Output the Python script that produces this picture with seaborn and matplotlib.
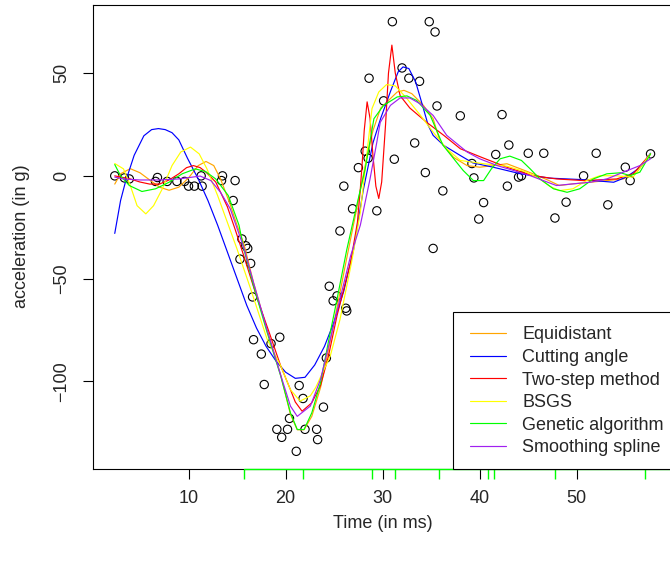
import matplotlib
matplotlib.use("Agg")
import matplotlib.pyplot as plt
import seaborn as sns
from matplotlib.patches import Rectangle

# Observed crash data (time in ms, acceleration in g)
time_pts = [2.4, 3.4, 3.9, 6.6, 6.8, 7.8, 8.8, 9.6, 10.0, 10.6, 11.4, 11.3, 13.5, 13.4, 14.8, 14.6,
            15.5, 15.9, 16.1, 15.3, 16.4, 16.6, 16.7, 18.5, 19.4, 17.5, 17.8, 21.4, 21.8, 23.9,
            20.4, 19.1, 20.2, 22.0, 23.2, 19.6, 23.3, 21.1, 24.2, 24.5, 25.3, 24.9, 26.2, 26.3,
            25.6, 26.9, 26.0, 27.5, 28.2, 28.5, 31.2, 29.4, 30.1, 28.6, 31.0, 34.8, 35.4, 32.0,
            32.7, 33.8, 35.6, 38.0, 33.3, 34.4, 36.2, 35.2, 42.3, 43.0, 41.65, 45.0, 46.6, 39.2,
            39.4, 44.0, 44.3, 42.85, 40.4, 39.9, 52.0, 57.6, 55.0, 50.7, 55.5, 48.9, 53.2, 47.75]
accel_pts = [0.0, -1.0, -1.5, -2.7, -0.8, -2.7, -2.7, -2.7, -5.0, -5.0, -5.0, 0.0, 0.0, -2.3, -2.3, -12.0,
             -30.7, -34.0, -35.3, -40.5, -42.6, -58.9, -79.7, -81.6, -78.5, -86.7, -101.5, -102.0, -108.3, -112.5,
             -118.0, -123.3, -123.3, -123.3, -123.3, -127.2, -128.3, -134.0, -88.6, -53.7, -58.4, -60.8, -64.4, -65.7,
             -26.8, -16.0, -5.0, 4.0, 12.0, 8.6, 8.1, -17.0, 36.5, 47.5, 75.0, 75.0, 70.0, 52.5,
             47.5, 46.0, 34.0, 29.2, 16.0, 1.6, -7.3, -35.3, 29.8, 15.0, 10.4, 11.0, 11.0, 6.0,
             -1.0, -0.6, 0.0, -5.0, -13.0, -21.0, 11.0, 10.7, 4.2, 0.0, -2.3, -12.8, -14.1, -20.5]

# Fitted curves
equi_x = [2.4, 3.0, 4.0, 5.0, 6.0, 7.0, 8.0, 9.0, 10.0, 11.0, 11.8, 12.6, 13.3, 14.3, 15.0, 15.7, 16.7, 18.1,
          19.5, 20.5, 21.2, 21.9, 22.7, 23.6, 24.4, 25.3, 26.3, 27.2, 28.2, 29.0, 29.8, 30.8, 31.5, 32.2, 33.0,
          34.2, 35.2, 35.9, 37.3, 38.7, 40.0, 41.4, 42.8, 44.2, 45.5, 47.0, 48.2, 49.6, 51.4, 53.1, 54.8, 56.2, 57.6]
equi_y = [-4, 1, 3.5, 1.5, -2, -5.5, -7, -5.5, -1, 5, 7, 5, -1.5, -14, -24, -33, -52, -75,
          -97, -116, -123.5, -123.5, -117, -103, -85, -64, -40, -19, 5, 22, 33, 37.6, 40.8, 41.6, 40,
          34.3, 27.8, 17, 9, 5, 4.2, 5, 5.9, 3.4, 1, -2, -4.7, -3.9, -3.1, -2.3, -1.5, 1.8, 10.7]

cut_x = [2.4, 3.0, 3.5, 4.4, 5.4, 6.2, 6.9, 7.6, 8.3, 9.0, 9.9, 11.0, 12.0, 13.0, 14.0, 15.0, 16.0, 17.0,
         18.0, 19.0, 20.0, 21.0, 22.0, 23.0, 24.0, 25.0, 26.0, 27.0, 28.0, 29.0, 29.8, 30.8, 31.6, 32.1, 32.7,
         33.4, 34.0, 34.7, 35.2, 36.3, 38.0, 39.3, 41.4, 44.2, 47.2, 50.4, 53.8, 55.1, 56.5, 57.6]
cut_y = [-28, -12, -3, 10, 19.5, 22.5, 23, 22.5, 21, 17.5, 8.5, -1.5, -12, -24, -37, -50, -63, -74,
         -83, -90, -95.5, -98.5, -98, -92, -83, -71, -56, -36, -7, 16, 28, 41, 50.6, 53, 52.2,
         45.7, 36, 24.5, 19.7, 14.8, 9.9, 6.3, 4.2, 1, -1.1, -1.8, -3.1, -0.6, 4, 11]

two_x = [2.4, 4.0, 5.0, 6.0, 7.0, 8.0, 9.0, 9.8, 10.5, 11.2, 11.8, 12.8, 14.0, 14.8, 15.7, 17.1, 18.3, 19.5,
         20.5, 21.0, 21.7, 22.7, 23.6, 24.4, 25.3, 26.7, 27.4, 27.7, 27.9, 28.1, 28.4, 28.7, 29.0, 29.3, 29.6,
         29.9, 30.3, 30.6, 30.95, 31.3, 31.8, 32.8, 34.55, 36.3, 38.0, 40.2, 42.8, 45.5, 47.9, 50.7, 54.1,
         55.8, 57.6]
two_y = [0, -1.5, -3, -4, -4, -2, 1, 4, 5, 4, 1.8, -3, -15, -26, -39, -60, -76, -92.5,
         -104, -110, -114.5, -110.4, -102, -88, -68, -42, -22.6, -6.3, 6.7, 22, 36, 28, 10, -5, -11,
         -3, 25, 50, 63.6, 50, 39, 33, 26, 19.7, 13.2, 9, 4.2, 0.1, -1.5, -2.3, -1.5,
         1, 10.7]

bsgs_x = [2.4, 3.3, 4.0, 4.7, 5.6, 6.4, 7.3, 8.3, 9.2, 10.2, 11.1, 11.9, 13.0, 14.0, 15.0, 16.4, 18.1, 19.5,
          20.5, 21.5, 22.55, 23.1, 24.6, 25.6, 26.8, 27.7, 28.2, 28.9, 29.6, 30.4, 31.3, 32.5, 33.9, 35.2,
          36.6, 38.0, 40.4, 42.8, 44.8, 46.2, 47.2, 48.2, 49.6, 51.0, 52.4, 54.1, 55.8, 57.6]
bsgs_y = [6, 3.4, -4.7, -14.5, -18.5, -14.5, -6.3, 5, 11.6, 14, 10.7, 3.4, -9.6, -22.6, -35.6, -55, -79.5, -92.5,
          -104, -109.6, -107, -103, -87.7, -70, -42, -17.7, 3.4, 32.7, 40.8, 44.4, 43.8, 37.6, 29.4, 21.3,
          13.2, 7.5, 5.9, 4.7, 1.8, -1.5, -5, -7.2, -6.3, -2.3, 0.1, 0, -0.6, 10.7]

ga_x = [2.4, 3.0, 3.9, 5.2, 6.6, 8.0, 9.35, 10.7, 11.75, 12.8, 14.1, 15.2, 15.7, 16.7, 18.1, 19.5, 20.5, 21.2,
        21.9, 22.7, 23.6, 24.4, 25.3, 26.3, 27.3, 28.2, 29.1, 30.1, 31.5, 32.5, 33.5, 34.9, 36.2, 37.6, 38.3,
        39.35, 40.4, 41.2, 42.1, 43.1, 44.3, 45.2, 46.2, 47.6, 49.0, 50.3, 51.7, 53.1, 54.5, 55.5, 56.5, 57.6]
ga_y = [5.5, 0, -4.7, -7.6, -6.3, -3.1, 1, 3.4, 2.1, -1.5, -9.6, -24, -35.6, -53.5, -76.2, -97.4, -115.3, -123.4,
        -123.4, -115.3, -100.6, -81, -60, -36, -15, 3.4, 27.8, 34.3, 38.4, 38.9, 36.7, 29.4, 15, 6.7, 2.6,
        -2.3, -2.3, 3.4, 8.3, 9.6, 7.5, 3.4, -1.5, -6.3, -8, -6.3, -1.5, 1, 1.5, 0.1, 1.8, 10.7]

smooth_x = [2.4, 3.3, 5.0, 7.0, 9.0, 11.2, 12.3, 13.3, 14.3, 15.7, 16.7, 18.1, 19.5, 20.5, 21.2, 22.55, 23.6,
            24.6, 25.6, 26.7, 27.7, 28.7, 29.4, 29.75, 30.8, 31.8, 32.8, 33.85, 35.2, 36.6, 38.7, 40.0, 41.8,
            43.5, 45.2, 47.9, 49.6, 51.4, 53.1, 54.8, 56.5, 57.6]
smooth_y = [-0.6, -1.5, -2, -2, -1.5, -0.1, -2.3, -8, -16, -35, -52, -75, -97, -112, -117, -112, -99,
            -79.5, -60, -38.9, -24, -1.5, 16.4, 26, 34.3, 37.9, 37.9, 35.1, 29.4, 19.7, 11.6, 8.3, 5,
            2.6, 0.1, -4.7, -3.9, -3.1, -1.5, 1.8, 5, 8.3]

# Knot positions shown as a rug
knots = [15.68, 21.75, 28.88, 31.26, 35.8, 40.81, 41.43, 47.76, 57.03]

method_names = ["Equidistant", "Cutting angle", "Two-step method", "BSGS",
                "Genetic algorithm", "Smoothing spline"]
method_colors = ["#FFA500", "#0000FF", "#FF0000", "#FFFF00", "#00FF00", "#A020F0"]
curves = [(equi_x, equi_y), (cut_x, cut_y), (two_x, two_y), (bsgs_x, bsgs_y),
          (ga_x, ga_y), (smooth_x, smooth_y)]

sns.set_style("ticks")
plt.rcParams["font.family"] = ["Liberation Sans", "DejaVu Sans"]

fig = plt.figure(figsize=(6.7, 5.64), dpi=100)
ax = fig.add_axes([93.3 / 670, (564 - 468.5) / 564, 578.7 / 670, 464 / 564])

sns.scatterplot(x=time_pts, y=accel_pts, ax=ax, marker="o", s=36,
                facecolor="none", edgecolor="black", linewidth=0.8, zorder=2)

for (cx, cy), name, col in zip(curves, method_names, method_colors):
    sns.lineplot(x=cx, y=cy, ax=ax, color=col, linewidth=0.85, label=name,
                 sort=False, estimator=None, zorder=3)

ax.set_xlim(0.19, 59.81)
ax.set_ylim(-142.36, 83.36)
ax.set_xticks([10, 20, 30, 40, 50])
ax.set_yticks([-100, -50, 0, 50])
ax.tick_params(direction="out", length=7.5, width=0.8, color="black", labelsize=13)
ax.tick_params(axis="x", pad=8)
ax.tick_params(axis="y", labelrotation=90, pad=9)
for lab in ax.get_yticklabels():
    lab.set_va("center")
for sp in ax.spines.values():
    sp.set_color("black")
    sp.set_linewidth(0.8)

ax.set_xlabel("Time (in ms)", fontsize=13, labelpad=6)
ax.set_ylabel("acceleration (in g)", fontsize=13, labelpad=17)

# knot rug under the axis
sns.rugplot(x=knots, ax=ax, height=-0.0216, color="#00FF00", linewidth=1.0, clip_on=False)
ax.plot([knots[0], 59.81], [0, 0], transform=ax.get_xaxis_transform(),
        color="#00FF00", linewidth=1.0, clip_on=False, zorder=5)

# legend box in the lower right corner
ax.add_patch(Rectangle((0.6216, 0.0), 0.39, 0.3373, transform=ax.transAxes,
                       facecolor="white", edgecolor="black", linewidth=0.8,
                       zorder=6, clip_on=False))
handles, labels = ax.get_legend_handles_labels()
leg = ax.legend(handles, labels, loc="upper left", bbox_to_anchor=(0.6506, 0.3064),
                frameon=False, borderpad=0, borderaxespad=0, fontsize=13, handlelength=2.0,
                handletextpad=0.9, labelspacing=0.31)
leg.set_zorder(7)

fig.savefig("out.png", dpi=100)
